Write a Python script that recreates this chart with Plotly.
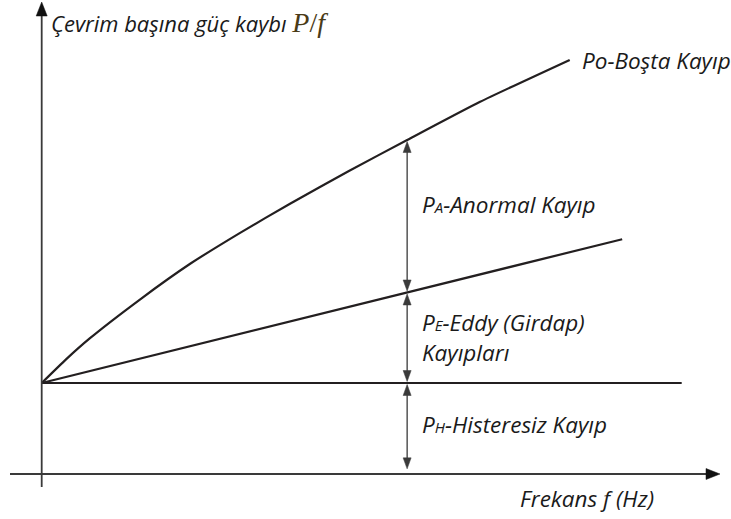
import plotly.graph_objects as go
import numpy as np

# ---- data (frequency in Hz, loss per cycle in relative units) ----
freq_po = [0, 3.8, 7.5, 15.4, 23.2, 31.0, 38.8, 48.0, 57.1, 68.5, 82.5]
loss_po = [1.0, 1.26, 1.49, 1.92, 2.31, 2.65, 2.97, 3.33, 3.67, 4.09, 4.55]
freq_eddy = [0, 90.7]
loss_eddy = [1.0, 2.58]
freq_hyst = [0, 100]
loss_hyst = [1.0, 1.0]
arrow_f = 57.1
arrow_bottom = 0.04

# ---- geometry helpers (pixels <-> data) ----
W, H = 731, 519
OX, OY = 41.7, 474.0     # pixel position of origin
SX, SY = 6.4, 91.0       # pixels per data unit


def fx(px):
    return (px - OX) / SX


def fy(py):
    return (OY - py) / SY


INK = "#231f20"
AX = "#3a3a3a"

fig = go.Figure()
fig.add_trace(go.Scatter(x=freq_hyst, y=loss_hyst, mode="lines",
                         line=dict(color=INK, width=2.2), hoverinfo="skip"))
fig.add_trace(go.Scatter(x=freq_eddy, y=loss_eddy, mode="lines",
                         line=dict(color=INK, width=2.2), hoverinfo="skip"))
fig.add_trace(go.Scatter(x=freq_po, y=loss_po, mode="lines",
                         line=dict(color=INK, width=2.2, shape="spline", smoothing=0.5),
                         hoverinfo="skip"))

shapes = []


def head(xt, yt, direction, L=11, hw=4, color=AX):
    # xt, yt: tip in data coords; L, hw in pixels
    if direction == "up":
        p = [(xt, yt), (xt - hw / SX, yt - L / SY), (xt + hw / SX, yt - L / SY)]
    elif direction == "down":
        p = [(xt, yt), (xt - hw / SX, yt + L / SY), (xt + hw / SX, yt + L / SY)]
    else:  # right
        p = [(xt, yt), (xt - L / SX, yt + hw / SY), (xt - L / SX, yt - hw / SY)]
    path = "M {} {} L {} {} L {} {} Z".format(p[0][0], p[0][1], p[1][0], p[1][1], p[2][0], p[2][1])
    shapes.append(dict(type="path", path=path, xref="x", yref="y",
                       fillcolor=color, line=dict(color=color, width=0.5)))


def vline(x, y0, y1, color=AX, width=1.3):
    shapes.append(dict(type="line", x0=x, x1=x, y0=y0, y1=y1, xref="x", yref="y",
                       line=dict(color=color, width=width)))


# axes
shapes.append(dict(type="line", x0=fx(10), x1=fx(708), y0=0, y1=0, xref="x", yref="y",
                   line=dict(color=AX, width=1.8)))
head(fx(720), 0, "right", L=14, hw=5.5, color="#111")
vline(0, fy(487), fy(14), color=AX, width=1.8)
head(0, fy(2), "up", L=14, hw=5.5, color="#111")

# measurement arrows at arrow_f
y_po = float(np.interp(arrow_f, freq_po, loss_po))
y_ed = float(np.interp(arrow_f, freq_eddy, loss_eddy))
y_hy = float(np.interp(arrow_f, freq_hyst, loss_hyst))
gap = 1.5 / SY
for top, bot in [(y_po, y_ed), (y_ed, y_hy), (y_hy, arrow_bottom)]:
    vline(arrow_f, bot + 8 / SY, top - 8 / SY)
    head(arrow_f, top - gap, "up")
    head(arrow_f, bot + gap, "down")

FONT = "Open Sans"
TXT = "#1a1a1a"
sub = "<span style='font-size:15px'>{}</span>"


def label(px, py, text, size=22.5):
    fig.add_annotation(x=fx(px), y=fy(py), xref="x", yref="y", text=text,
                       showarrow=False, xanchor="left", yanchor="middle",
                       font=dict(family=FONT, size=size, color=TXT))


label(49, 22, "<i>Çevrim başına güç kaybı</i> "
      "<span style='font-family:Liberation Serif;font-size:28px;color:#4a3b17'><i>P</i>/<i>f</i></span>",
      size=22)
label(580, 60, "<i>Po-Boşta Kayıp</i>")
label(420, 204, "<i>P" + sub.format("A") + "-Anormal Kayıp</i>")
label(420, 322, "<i>P" + sub.format("E") + "-Eddy (Girdap)</i>")
label(420, 352, "<i>Kayıpları</i>")
label(420, 424, "<i>P" + sub.format("H") + "-Histeresiz Kayıp</i>")
label(518, 498, "<i>Frekans f (Hz)</i>")

fig.update_layout(
    width=W, height=H,
    margin=dict(l=0, r=0, t=0, b=0),
    paper_bgcolor="white", plot_bgcolor="white",
    showlegend=False,
    shapes=shapes,
    xaxis=dict(visible=False, range=[fx(0), fx(W)], fixedrange=True),
    yaxis=dict(visible=False, range=[fy(H), fy(0)], fixedrange=True),
)

fig.write_html("out.html", config={"displayModeBar": False},
               post_script="document.body.style.margin='0';document.body.style.overflow='hidden';")
